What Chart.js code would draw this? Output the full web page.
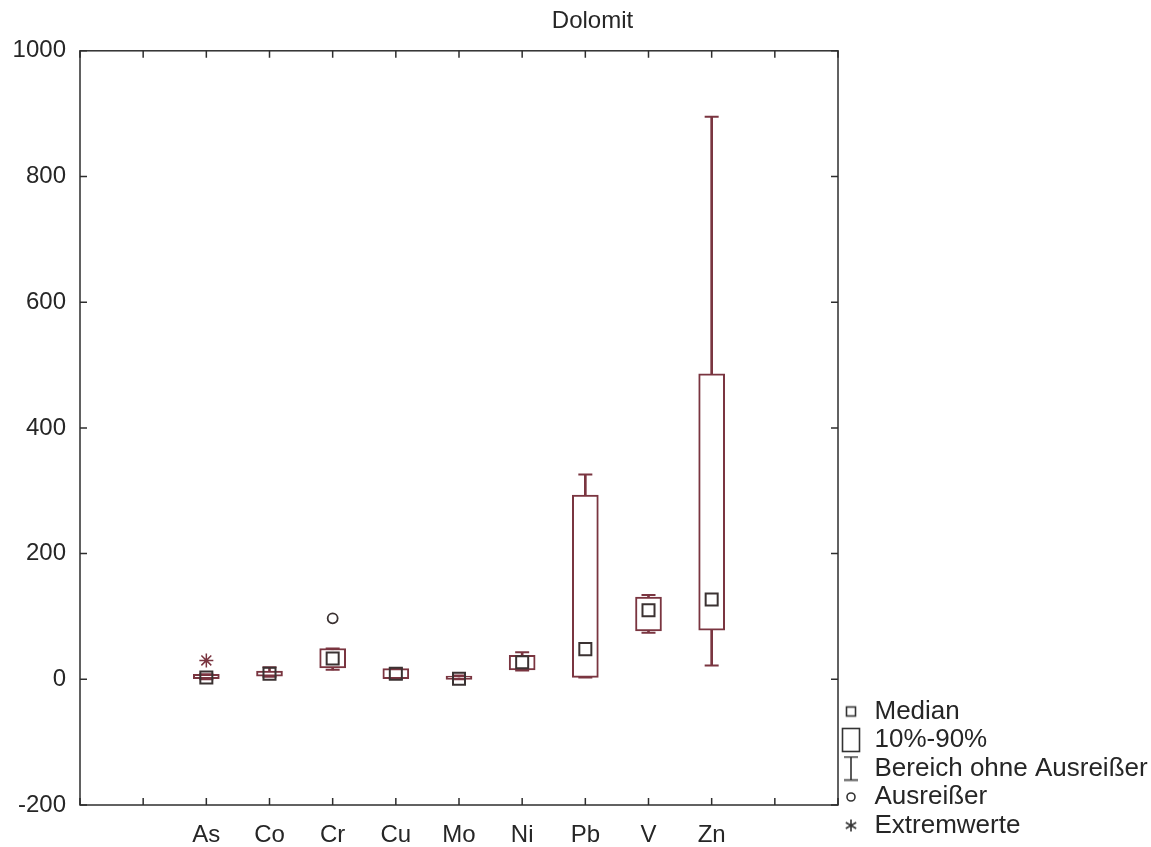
<!DOCTYPE html>
<html>
<head>
<meta charset="utf-8">
<script src="https://cdn.jsdelivr.net/npm/chart.js@4/dist/chart.umd.min.js"></script>
<style>
  body { margin: 0; background: #fff; }
</style>
</head>
<body>
<canvas id="box" width="1151" height="847"></canvas>
<script>
const categories = ["As", "Co", "Cr", "Cu", "Mo", "Ni", "Pb", "V", "Zn"];
const rangeMin = [0, 4, 15, 1, 0, 14, 3, 74, 22];
const p10 = [1, 5, 18, 1, 0, 15, 3, 77, 78];
const medians = [3, 9, 33, 9, 1, 27, 48, 110, 127];
const p90 = [8, 13, 49, 17, 5, 38, 293, 131, 486];
const rangeMax = [8, 19, 49, 17, 6, 43, 326, 134, 895];
const outlierValues = [null, null, 97, null, null, null, null, null, null];
const extremeValues = [30, null, null, null, null, null, null, null, null];
const yTicks = [-200, 0, 200, 400, 600, 800, 1000];

const boxColor = "#7a3540";
const darkColor = "#3b3232";
const axisColor = "#2e2e2e";
const textColor = "#262626";
const fontFamily = "'Liberation Sans', Arial, sans-serif";

// two empty slots on each side of the categories
const labels = ["", ""].concat(categories, ["", ""]);
const pad = (arr) => [null, null].concat(arr, [null, null]);

const boxData = pad(categories.map((c, i) => [p10[i], p90[i]]));
const stemData = pad(categories.map((c, i) => [rangeMin[i], rangeMax[i]]));
const capData = [];
categories.forEach((c, i) => {
  capData.push({ x: c, y: rangeMin[i] });
  capData.push({ x: c, y: rangeMax[i] });
});
const medianData = categories.map((c, i) => ({ x: c, y: medians[i] }));
const outlierData = categories
  .map((c, i) => ({ x: c, y: outlierValues[i] }))
  .filter((p) => p.y !== null);
const extremeData = categories
  .map((c, i) => ({ x: c, y: extremeValues[i] }))
  .filter((p) => p.y !== null);

// legend icons
function icon(w, h, draw) {
  const c = document.createElement("canvas");
  c.width = w;
  c.height = h;
  const g = c.getContext("2d");
  g.strokeStyle = "#333";
  g.lineWidth = 1.6;
  draw(g, w, h);
  return c;
}
const medianIcon = icon(24, 24, (g) => g.strokeRect(7.5, 7.5, 9, 9));
const boxIcon = icon(24, 26, (g) => g.strokeRect(3.5, 1.5, 17, 23));
const rangeIcon = icon(24, 26, (g) => {
  g.beginPath();
  g.moveTo(5, 1.5); g.lineTo(19, 1.5);
  g.moveTo(12, 1.5); g.lineTo(12, 24.5);
  g.moveTo(5, 24.5); g.lineTo(19, 24.5);
  g.stroke();
});
const outlierIcon = icon(24, 24, (g) => {
  g.beginPath();
  g.arc(12, 12, 4, 0, Math.PI * 2);
  g.stroke();
});
const extremeIcon = icon(24, 24, (g) => {
  g.beginPath();
  for (let k = 0; k < 3; k++) {
    const a = Math.PI / 2 + (k * Math.PI) / 3;
    g.moveTo(12 + 6 * Math.cos(a), 12 + 6 * Math.sin(a));
    g.lineTo(12 - 6 * Math.cos(a), 12 - 6 * Math.sin(a));
  }
  g.stroke();
});

// frame round the plot with inward tick marks on all four sides
const frameTicks = {
  id: "frameTicks",
  afterDraw(chart) {
    const { ctx, chartArea: a, scales } = chart;
    const x = scales.x;
    const y = scales.y;
    ctx.save();
    ctx.strokeStyle = axisColor;
    ctx.lineWidth = 1.5;
    ctx.strokeRect(a.left, a.top, a.right - a.left, a.bottom - a.top);
    ctx.beginPath();
    x.ticks.forEach((t, i) => {
      const px = x.getPixelForTick(i);
      ctx.moveTo(px, a.bottom);
      ctx.lineTo(px, a.bottom - 7);
      ctx.moveTo(px, a.top);
      ctx.lineTo(px, a.top + 7);
    });
    y.ticks.forEach((t, i) => {
      const py = y.getPixelForTick(i);
      ctx.moveTo(a.left, py);
      ctx.lineTo(a.left + 7, py);
      ctx.moveTo(a.right, py);
      ctx.lineTo(a.right - 7, py);
    });
    ctx.stroke();
    ctx.restore();
  },
};

// fixed legend width, legend lifted a bit, title nudged right
const boxTweaks = {
  id: "boxTweaks",
  beforeLayout(chart) {
    const lg = chart.legend;
    if (lg && !lg._fixedFit) {
      const fit = lg.fit;
      lg.fit = function () {
        fit.call(this);
        this.width = 313;
      };
      lg._fixedFit = true;
    }
  },
  afterLayout(chart) {
    if (chart.legend) {
      chart.legend.top -= 6;
      chart.legend.bottom -= 6;
    }
    if (chart.titleBlock) {
      chart.titleBlock.left += 17;
      chart.titleBlock.right += 17;
    }
  },
};

Chart.defaults.font.family = fontFamily;
Chart.defaults.color = textColor;

const chart = new Chart(document.querySelector("#box"), {
  type: "bar",
  plugins: [frameTicks, boxTweaks],
  data: {
    labels: labels,
    datasets: [
      {
        type: "scatter",
        label: "Median",
        data: medianData,
        pointStyle: "rect",
        radius: 8.5,
        borderWidth: 2,
        borderColor: darkColor,
        backgroundColor: "rgba(255,255,255,0)",
        order: 1,
      },
      {
        type: "scatter",
        label: "Ausreißer",
        data: outlierData,
        pointStyle: "circle",
        radius: 5,
        borderWidth: 1.8,
        borderColor: darkColor,
        backgroundColor: "#fff",
        order: 2,
      },
      {
        type: "scatter",
        label: "Extremwerte",
        data: extremeData,
        pointStyle: "star",
        radius: 7,
        borderWidth: 1.5,
        borderColor: boxColor,
        order: 3,
      },
      {
        label: "10%-90%",
        data: boxData,
        grouped: false,
        barThickness: 26,
        backgroundColor: "#fff",
        borderColor: boxColor,
        borderWidth: 2,
        borderSkipped: false,
        order: 4,
      },
      {
        type: "scatter",
        label: "caps",
        data: capData,
        pointStyle: "line",
        radius: 7,
        borderWidth: 2,
        borderColor: boxColor,
        order: 5,
      },
      {
        label: "Bereich ohne Ausreißer",
        data: stemData,
        grouped: false,
        barThickness: 2,
        backgroundColor: boxColor,
        borderWidth: 0,
        order: 6,
      },
    ],
  },
  options: {
    responsive: false,
    animation: false,
    events: [],
    layout: { padding: 0 },
    plugins: {
      title: {
        display: true,
        text: "Dolomit",
        color: textColor,
        font: { size: 24, weight: "normal" },
        padding: { top: 7, bottom: 15 },
      },
      tooltip: { enabled: false },
      legend: {
        position: "right",
        align: "end",
        labels: {
          usePointStyle: true,
          pointStyleWidth: 21,
          font: { size: 26 },
          color: textColor,
          padding: 2.5,
          generateLabels: () => [
            { text: "Median", pointStyle: medianIcon },
            { text: "10%-90%", pointStyle: boxIcon },
            { text: "Bereich ohne Ausreißer", pointStyle: rangeIcon },
            { text: "Ausreißer", pointStyle: outlierIcon },
            { text: "Extremwerte", pointStyle: extremeIcon },
          ].map((l) => ({
            ...l,
            fillStyle: "#fff",
            strokeStyle: "#333",
            lineWidth: 0,
            fontColor: textColor,
            hidden: false,
          })),
        },
      },
    },
    scales: {
      x: {
        type: "category",
        offset: false,
        grid: { display: false },
        border: { display: false },
        ticks: {
          autoSkip: false,
          maxRotation: 0,
          padding: 8,
          color: textColor,
          font: { size: 24 },
        },
        afterFit: (scale) => {
          scale.height = 42;
        },
      },
      y: {
        min: -200,
        max: 1000,
        grid: { display: false },
        border: { display: false },
        afterBuildTicks: (scale) => {
          scale.ticks = yTicks.map((v) => ({ value: v }));
        },
        ticks: {
          padding: 6,
          color: textColor,
          font: { size: 24 },
          callback: (v) => String(v),
        },
        afterFit: (scale) => {
          scale.width = 80;
        },
      },
    },
  },
});
</script>
</body>
</html>
